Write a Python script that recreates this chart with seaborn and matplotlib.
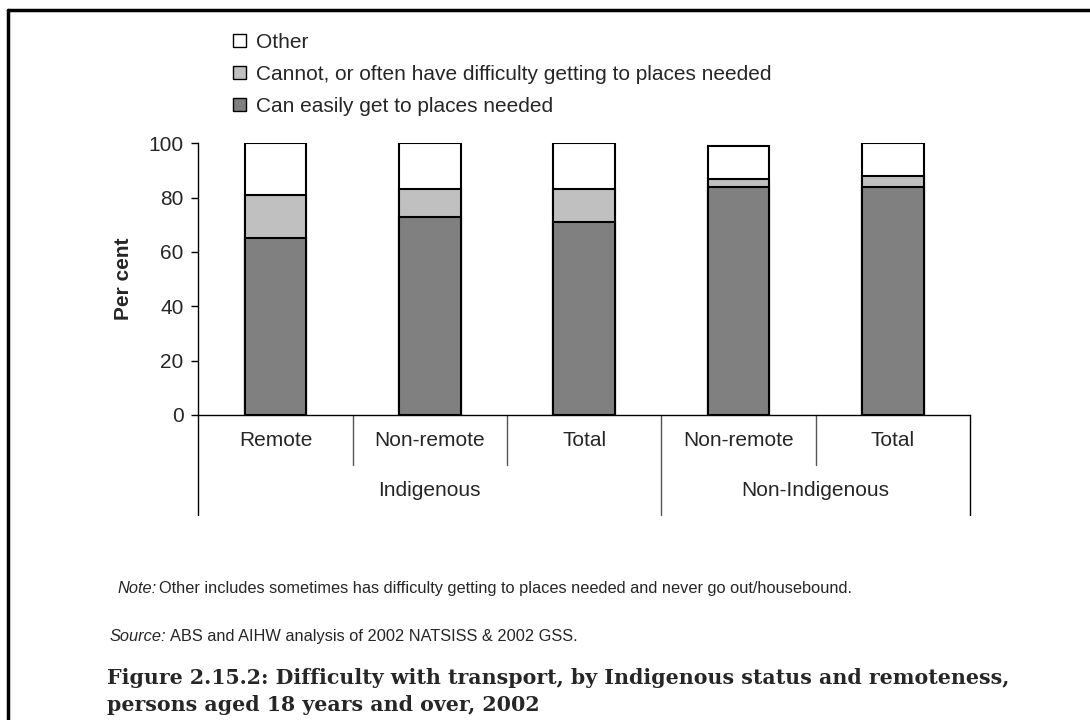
import matplotlib
matplotlib.use("Agg")
import matplotlib.pyplot as plt
import seaborn as sns
import pandas as pd
import numpy as np
from matplotlib.patches import Patch
from matplotlib.lines import Line2D

# ---- data ----
groups = ["Indigenous", "Indigenous", "Indigenous", "Non-Indigenous", "Non-Indigenous"]
categories = ["Remote", "Non-remote", "Total", "Non-remote", "Total"]
can_easily = [65, 73, 71, 84, 84]
cannot_often = [16, 10, 12, 3, 4]
other = [19, 17, 17, 12, 12]
series_names = ["Can easily get to places needed",
                "Cannot, or often have difficulty getting to places needed",
                "Other"]
yticks = [0, 20, 40, 60, 80, 100]

colors = ["#808080", "#c0c0c0", "#ffffff"]

sns.set_theme(style="white")
plt.rcParams['font.family'] = ['Liberation Sans', 'DejaVu Sans']

FS = 15
W, H = 1090, 720
fig = plt.figure(figsize=(W / 100, H / 100), dpi=100)

ax_l, ax_r, ax_b, ax_t = 198.3, 970, 415, 143.3
ax = fig.add_axes([ax_l / W, 1 - ax_b / H, (ax_r - ax_l) / W, (ax_b - ax_t) / H])

pos = list(range(len(categories)))
df = pd.DataFrame({
    "pos": pos,
    "c1": np.array(can_easily),
    "c2": np.array(can_easily) + np.array(cannot_often),
    "c3": np.array(can_easily) + np.array(cannot_often) + np.array(other),
})
for col, colr in zip(["c3", "c2", "c1"], colors[::-1]):
    sns.barplot(data=df, x="pos", y=col, color=colr, width=0.40,
                edgecolor="black", linewidth=1.5, saturation=1, ax=ax,
                native_scale=True)

ax.set_xlim(-0.5, len(categories) - 0.5)
ax.set_ylim(0, 100)
ax.set_yticks(yticks)
ax.set_yticklabels([str(v) for v in yticks], fontsize=FS)
ax.tick_params(axis="y", direction="out", length=5, width=1, color="black", pad=5.5, left=True)
ax.set_xticks([])
ax.set_xlabel("")
ax.set_ylabel("Per cent", fontsize=FS, fontweight="bold", labelpad=11)
for s in ["top", "right"]:
    ax.spines[s].set_visible(False)
for s in ["left", "bottom"]:
    ax.spines[s].set_color("black")
    ax.spines[s].set_linewidth(1.0)

# category axis with separators
trans = ax.get_xaxis_transform()
ph = ax_b - ax_t
short = -(465 - ax_b) / ph
long_ = -(515 - ax_b) / ph
ax.plot([-0.5, -0.5], [0, long_], transform=trans, color="black", lw=1.0, clip_on=False)
ax.plot([len(categories) - 0.5] * 2, [0, long_], transform=trans, color="black", lw=1.0, clip_on=False)
for i in range(1, len(categories)):
    y_end = long_ if groups[i] != groups[i - 1] else short
    ax.plot([i - 0.5, i - 0.5], [0, y_end], transform=trans, color="#555555", lw=1.0, clip_on=False)
for i, c in enumerate(categories):
    ax.text(i, -(441 - ax_b) / ph, c, transform=trans, ha="center", va="center", fontsize=FS)
uniq = []
for g in groups:
    if g not in uniq:
        uniq.append(g)
for g in uniq:
    idx = [i for i, gg in enumerate(groups) if gg == g]
    ax.text(np.mean(idx), -(491 - ax_b) / ph, g, transform=trans, ha="center", va="center", fontsize=FS)

# legend
handles = [Patch(facecolor=colors[k], edgecolor="black", linewidth=1.0, label=series_names[k])
           for k in [2, 1, 0]]
fig.legend(handles=handles, loc="upper left", bbox_to_anchor=(233 / W, 1 - 33 / H),
           frameon=False, fontsize=FS, handlelength=0.6, handleheight=0.6,
           handletextpad=0.5, labelspacing=0.62, borderaxespad=0, borderpad=0)

# note / source
fig.canvas.draw()
rend = fig.canvas.get_renderer()

def two_part(x, y, first, rest, size):
    t = fig.text(x / W, 1 - y / H, first, fontsize=size, style="italic", va="baseline", ha="left")
    bb = t.get_window_extent(renderer=rend)
    fig.text(bb.x1 / W + 3 / W, 1 - y / H, rest, fontsize=size, va="baseline", ha="left")

two_part(117, 593, "Note:",
         "Other includes sometimes has difficulty getting to places needed and never go out/housebound.", 11.8)
two_part(110, 641, "Source:", "ABS and AIHW analysis of 2002 NATSISS & 2002 GSS.", 11.8)

fig.text(107 / W, 1 - 678 / H,
         "Figure 2.15.2: Difficulty with transport, by Indigenous status and remoteness,",
         fontsize=14.8, fontweight="bold", family=["DejaVu Serif"], va="center", ha="left")
fig.text(107 / W, 1 - 705 / H, "persons aged 18 years and over, 2002",
         fontsize=14.8, fontweight="bold", family=["DejaVu Serif"], va="center", ha="left")

# page border (top and left)
fig.add_artist(Line2D([8 / W, 8 / W], [0, 1 - 10 / H], color="black", lw=2.5, transform=fig.transFigure))
fig.add_artist(Line2D([8 / W, 1], [1 - 10 / H, 1 - 10 / H], color="black", lw=2.5, transform=fig.transFigure))

fig.savefig("out.png", dpi=100)
